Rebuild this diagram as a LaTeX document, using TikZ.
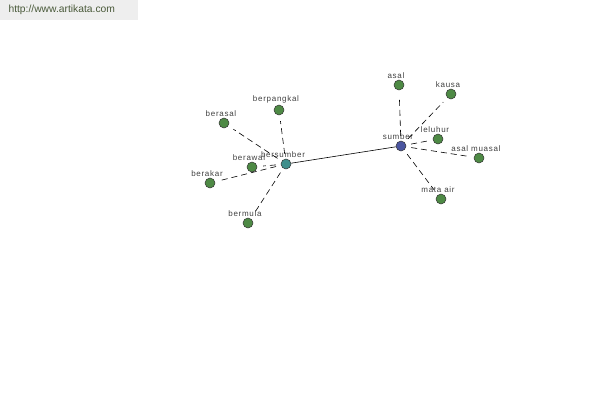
\documentclass[tikz,border=0pt]{standalone}
\usepackage{fontspec}
\setmainfont{Liberation Sans}
\newfontfamily\wordfont[LetterSpace=9]{Liberation Sans}
\usetikzlibrary{calc}
\definecolor{leafgreen}{HTML}{4E8A45}
\definecolor{hubblue}{HTML}{4A55A0}
\definecolor{hubteal}{HTML}{3F8F8C}
\definecolor{bargray}{HTML}{EEEEEE}
\definecolor{urlgreen}{HTML}{4A5A3A}
\tikzset{
  word/.style={circle, draw=black!80, line width=0.5pt, inner sep=0pt, minimum size=10pt, fill=leafgreen,
    label={[font=\wordfont\fontsize{8}{9}\selectfont, text=black!75, inner sep=1pt, xshift=-3pt]above:#1}},
  link/.style={dashed, line width=0.6pt, dash pattern=on 6pt off 4pt, shorten <=5pt, shorten >=6pt},
}

\begin{document}
\begin{tikzpicture}[x=1pt, y=-1pt]
		%%%%% START %%%%%
		
		\useasboundingbox (0, 0) rectangle (600, 400);
		\fill[bargray] (0, 0) rectangle (138, 20);
		\node[anchor=west, text=urlgreen, font=\fontsize{10.3}{11}\selectfont] (url) at (5, 10) {http://www.artikata.com};
		
		\node[word=sumber, fill=hubblue] (sumber) at (401, 146) {};
		\node[word=bersumber, fill=hubteal] (bersumber) at (286, 164) {};
		
		\node[word=asal] (asal) at (399, 85) {};
		\node[word=kausa] (kausa) at (451, 94) {};
		\node[word=leluhur] (leluhur) at (438, 139) {};
		\node[word=asal muasal] (muasal) at (479, 158) {};
		\node[word=mata air] (mataair) at (441, 199) {};
		
		\node[word=berasal] (berasal) at (224, 123) {};
		\node[word=berpangkal] (berpangkal) at (279, 110) {};
		\node[word=berawal] (berawal) at (252, 167) {};
		\node[word=berakar] (berakar) at (210, 183) {};
		\node[word=bermula] (bermula) at (248, 223) {};
		
		\draw[line width=0.6pt] (sumber) -- (bersumber);
		
		\foreach \w in {asal, kausa, leluhur, muasal, mataair}
			\draw[link] (sumber) -- (\w);
		\foreach \w in {berasal, berpangkal, berawal, berakar, bermula}
			\draw[link] (bersumber) -- (\w);
		
		%%%%% END %%%%%
	\end{tikzpicture}
\end{document}
